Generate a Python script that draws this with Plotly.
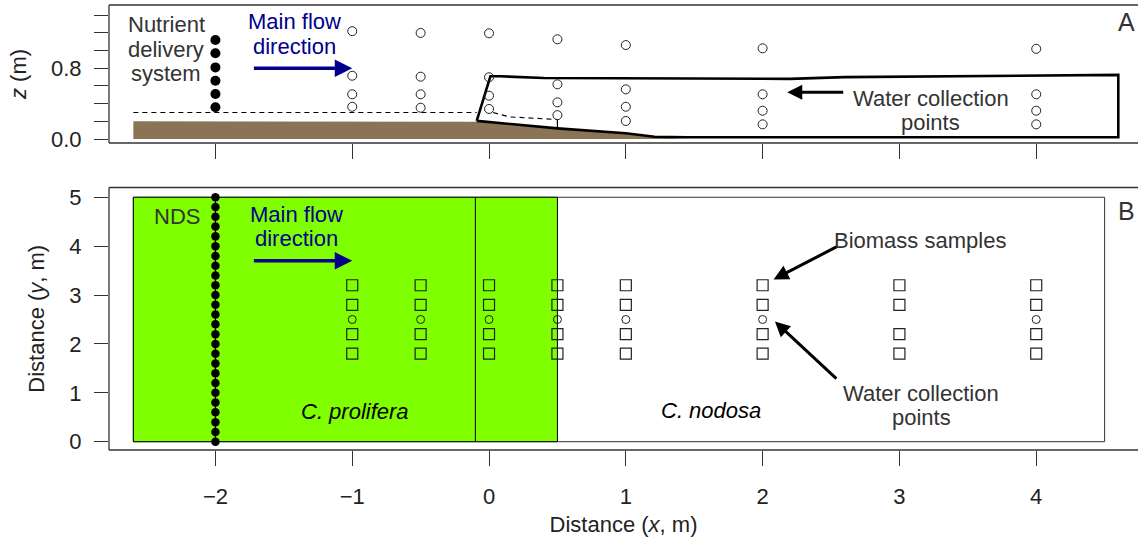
import plotly.graph_objects as go

# ---------------- data ----------------
x_ticks = [-2, -1, 0, 1, 2, 3, 4]
z_ticks = [0.0, 0.2, 0.4, 0.6, 0.8, 1.0, 1.2, 1.4]
z_ticklabels = ["0.0", "", "", "", "0.8", "", "", ""]
y_ticks = [0, 1, 2, 3, 4, 5]

# Panel A (side view)
nds_x = -2
nds_z = [0.36, 0.51, 0.66, 0.81, 0.97, 1.12]
water_x = [-1, -0.5, 0, 0.5, 1, 2, 4]
water_z = [
    [1.22, 0.716, 0.506, 0.365],
    [1.20, 0.705, 0.506, 0.354],
    [1.196, 0.698, 0.49, 0.34],
    [1.128, 0.619, 0.415, 0.27],
    [1.063, 0.562, 0.365, 0.204],
    [1.026, 0.506, 0.32, 0.166],
    [1.02, 0.506, 0.32, 0.166],
]
ground_x = [-2.6, -0.35, -0.09, 0.5, 1.0, 1.21, 1.45]
ground_z = [0.20, 0.20, 0.195, 0.12, 0.065, 0.025, 0.0]
enclosure_x = [-0.09, 0.01, 0.08, 0.40, 2.20, 2.60, 4.60, 4.60, 1.45, 1.21, 1.00, 0.50, -0.09]
enclosure_z = [0.205, 0.71, 0.71, 0.69, 0.68, 0.70, 0.725, 0.02, 0.02, 0.025, 0.065, 0.12, 0.205]
water_level1_x = [-2.6, -0.09]
water_level1_z = [0.30, 0.30]
water_level2_x = [0.03, 0.15, 0.5]
water_level2_z = [0.30, 0.25, 0.22]
stake_x = [0.5, 0.5]
stake_z = [0.22, 0.12]

# Panel B (plan view)
nds_y = [0.0, 0.2, 0.4, 0.6, 0.8, 1.0, 1.2, 1.4, 1.6, 1.8, 2.0, 2.2, 2.4,
         2.6, 2.8, 3.0, 3.2, 3.4, 3.6, 3.8, 4.0, 4.2, 4.4, 4.6, 4.8, 5.0]
biomass_x = [-1, -0.5, 0, 0.5, 1, 2, 3, 4]
biomass_y = [1.8, 2.2, 2.8, 3.2]
wpoint_x = [-1, -0.5, 0, 0.5, 1, 2, 4]
wpoint_y = 2.5
site_x = [-2.6, 4.5]
prolifera_x = [-2.6, 0.5]
prolifera_divider_x = -0.1
site_y = [0, 5]

# ---------------- styles ----------------
FONT = "Liberation Sans, Arial, sans-serif"
DARK = "#333333"
NAVY = "#00008B"
BROWN = "#8b7355"
GREEN = "#7FFF00"
FS = 22

fig = go.Figure()

# ---- Panel A ----
fig.add_trace(go.Scatter(
    x=ground_x + [ground_x[-1], ground_x[0]], y=ground_z + [0, 0],
    fill="toself", fillcolor=BROWN, mode="lines", line=dict(width=0),
    xaxis="x", yaxis="y", hoverinfo="skip", showlegend=False))
fig.add_trace(go.Scatter(
    x=water_level1_x, y=water_level1_z, mode="lines",
    line=dict(color="black", width=1.2, dash="5px,4px"),
    xaxis="x", yaxis="y", hoverinfo="skip", showlegend=False))
fig.add_trace(go.Scatter(
    x=water_level2_x, y=water_level2_z, mode="lines",
    line=dict(color="black", width=1.2, dash="5px,4px"),
    xaxis="x", yaxis="y", hoverinfo="skip", showlegend=False))
fig.add_trace(go.Scatter(
    x=stake_x, y=stake_z, mode="lines", line=dict(color="black", width=1.2),
    xaxis="x", yaxis="y", hoverinfo="skip", showlegend=False))
fig.add_trace(go.Scatter(
    x=enclosure_x, y=enclosure_z, mode="lines", line=dict(color="black", width=2.6),
    xaxis="x", yaxis="y", hoverinfo="skip", showlegend=False))
fig.add_trace(go.Scatter(
    x=[nds_x] * len(nds_z), y=nds_z, mode="markers",
    marker=dict(symbol="circle", size=10, color="black"),
    xaxis="x", yaxis="y", hoverinfo="skip", showlegend=False))
wx, wz = [], []
for xv, zs in zip(water_x, water_z):
    for zv in zs:
        wx.append(xv)
        wz.append(zv)
fig.add_trace(go.Scatter(
    x=wx, y=wz, mode="markers",
    marker=dict(symbol="circle-open", size=9, color="#222222", line=dict(width=1)),
    xaxis="x", yaxis="y", hoverinfo="skip", showlegend=False))

# ---- Panel B ----
bx, by = [], []
for xv in biomass_x:
    for yv in biomass_y:
        bx.append(xv)
        by.append(yv)
fig.add_trace(go.Scatter(
    x=bx, y=by, mode="markers",
    marker=dict(symbol="square-open", size=11, color="#222222", line=dict(width=1.2)),
    xaxis="x2", yaxis="y2", hoverinfo="skip", showlegend=False))
fig.add_trace(go.Scatter(
    x=wpoint_x, y=[wpoint_y] * len(wpoint_x), mode="markers",
    marker=dict(symbol="circle-open", size=8, color="#222222", line=dict(width=1)),
    xaxis="x2", yaxis="y2", hoverinfo="skip", showlegend=False))
fig.add_trace(go.Scatter(
    x=[nds_x] * len(nds_y), y=nds_y, mode="lines+markers",
    line=dict(color="black", width=1.2),
    marker=dict(symbol="circle", size=8.5, color="black"),
    xaxis="x2", yaxis="y2", hoverinfo="skip", showlegend=False))

shapes = [
    dict(type="rect", xref="x2", yref="y2", x0=site_x[0], x1=site_x[1], y0=site_y[0], y1=site_y[1],
         fillcolor="white", line=dict(color=DARK, width=1), layer="below"),
    dict(type="rect", xref="x2", yref="y2", x0=prolifera_x[0], x1=prolifera_x[1], y0=site_y[0], y1=site_y[1],
         fillcolor=GREEN, line=dict(color="black", width=1), layer="below"),
    dict(type="line", xref="x2", yref="y2", x0=prolifera_divider_x, x1=prolifera_divider_x,
         y0=site_y[0], y1=site_y[1], line=dict(color="black", width=1), layer="below"),
]

# frames (open on the right, like the clipped original)
L = 0.0
for (yb, yt) in [(0.6899, 1.0), (0.0, 0.5899)]:
    shapes.append(dict(type="line", xref="paper", yref="paper", x0=L, x1=1.0, y0=yt, y1=yt,
                       line=dict(color=DARK, width=1.3)))
    shapes.append(dict(type="line", xref="paper", yref="paper", x0=L, x1=1.0, y0=yb, y1=yb,
                       line=dict(color=DARK, width=1.3)))
    shapes.append(dict(type="line", xref="paper", yref="paper", x0=L, x1=L, y0=yb, y1=yt,
                       line=dict(color=DARK, width=1.3)))

txt = dict(family=FONT, size=FS, color=DARK)
navy_txt = dict(family=FONT, size=FS, color=NAVY)
black_txt = dict(family=FONT, size=FS, color="black")


def label(x, y, text, font, xr="x", yr="y"):
    return dict(x=x, y=y, xref=xr, yref=yr, text=text, showarrow=False, font=font)


def arrow(x, y, ax, ay, color, width, xr="x", yr="y"):
    return dict(x=x, y=y, ax=ax, ay=ay, xref=xr, yref=yr, axref=xr, ayref=yr, text="",
                showarrow=True, arrowhead=2, arrowsize=1, arrowwidth=width, arrowcolor=color)


annotations = [
    # Panel A texts
    label(-2.36, 1.295, "Nutrient", txt),
    label(-2.36, 1.018, "delivery", txt),
    label(-2.36, 0.741, "system", txt),
    label(-1.425, 1.324, "Main flow", navy_txt),
    label(-1.425, 1.052, "direction", navy_txt),
    arrow(-1.0, 0.80, -1.73, 0.80, NAVY, 3.5),
    label(3.23, 0.464, "Water collection", txt),
    label(3.23, 0.192, "points", txt),
    arrow(2.18, 0.53, 2.60, 0.53, "black", 3),
    dict(x=4.66, y=1.32, xref="x", yref="y", text="A", showarrow=False,
         font=dict(family=FONT, size=25, color=DARK)),
    # Panel B texts
    label(-2.28, 4.60, "NDS", txt, "x2", "y2"),
    label(-1.41, 4.638, "Main flow", navy_txt, "x2", "y2"),
    label(-1.41, 4.147, "direction", navy_txt, "x2", "y2"),
    arrow(-1.0, 3.70, -1.73, 3.70, NAVY, 3.5, "x2", "y2"),
    label(-0.98, 0.61, "<i>C. prolifera</i>", black_txt, "x2", "y2"),
    label(1.62, 0.63, "<i>C. nodosa</i>", black_txt, "x2", "y2"),
    label(3.15, 4.11, "Biomass samples", txt, "x2", "y2"),
    arrow(2.08, 3.32, 2.55, 4.0, "black", 3, "x2", "y2"),
    label(3.16, 0.976, "Water collection", txt, "x2", "y2"),
    label(3.16, 0.485, "points", txt, "x2", "y2"),
    arrow(2.09, 2.46, 2.55, 1.26, "black", 3, "x2", "y2"),
    dict(x=4.66, y=4.72, xref="x2", yref="y2", text="B", showarrow=False,
         font=dict(family=FONT, size=25, color=DARK)),
]

x_range = [-2.778, 4.744]
tickfont = dict(family=FONT, size=FS, color="#222222")
common_x = dict(range=x_range, tickvals=x_ticks, ticks="outside", ticklen=15, tickwidth=1,
                tickcolor=DARK, showgrid=False, zeroline=False, showline=False,
                domain=[0, 1], fixedrange=True)

fig.update_layout(
    width=1138, height=544,
    margin=dict(l=109, r=0, t=5, b=94),
    paper_bgcolor="white", plot_bgcolor="white",
    font=dict(family=FONT, size=FS, color=DARK),
    shapes=shapes, annotations=annotations,
    xaxis=dict(**common_x, anchor="y", showticklabels=False),
    yaxis=dict(domain=[0.6899, 1.0], range=[-0.045, 1.516], tickvals=z_ticks, ticktext=z_ticklabels,
               ticks="outside", ticklen=14, tickwidth=1, tickcolor=DARK, tickfont=tickfont,
               ticklabelstandoff=8, showgrid=False, zeroline=False, showline=False, anchor="x",
               title=dict(text="<i>z</i> (m)", font=dict(family=FONT, size=FS, color="#222222"),
                          standoff=18)),
    xaxis2=dict(**common_x, anchor="y2", showticklabels=True, tickfont=tickfont,
                ticklabelstandoff=12,
                title=dict(text="Distance (<i>x</i>, m)", font=dict(family=FONT, size=FS, color="#222222"),
                           standoff=8)),
    yaxis2=dict(domain=[0.0, 0.5899], range=[-0.17, 5.20], tickvals=y_ticks,
                ticks="outside", ticklen=14, tickwidth=1, tickcolor=DARK, tickfont=tickfont,
                ticklabelstandoff=8, showgrid=False, zeroline=False, showline=False, anchor="x2",
                title=dict(text="Distance (<i>y</i>, m)", font=dict(family=FONT, size=FS, color="#222222"),
                           standoff=18)),
)

fig.write_html(
    "out.html",
    config={"displayModeBar": False, "staticPlot": True},
    post_script="document.body.style.margin='0';document.body.style.padding='0';"
                "document.body.style.overflow='hidden';",
)
